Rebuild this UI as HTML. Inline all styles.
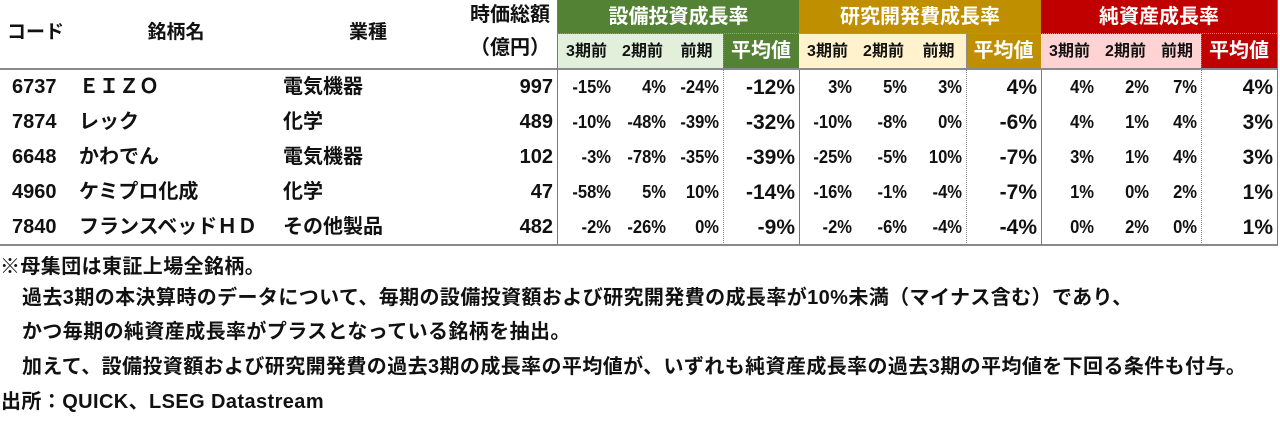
<!DOCTYPE html>
<html><head><meta charset="utf-8">
<style>
*{margin:0;padding:0;box-sizing:border-box}
html,body{width:1280px;height:422px;background:#fff;overflow:hidden}
body{position:relative;font-family:"Liberation Sans","Noto Sans CJK JP",sans-serif;font-weight:bold;color:#111}
.c{position:absolute;white-space:nowrap;height:35px;line-height:35px}
.l{text-align:left}
.r{text-align:right;padding-right:4px}
.m{text-align:center}
.bg{position:absolute}
.vl{position:absolute;width:0;border-left:1px solid #7a7a7a}
.vd{position:absolute;width:0;border-left:1px dotted #8a8a8a}
.hl{position:absolute;height:2px;background:#8a8a8a}
.t{font-size:20px;color:#fff;height:34px;line-height:34px}
.s{font-size:16px;color:#111}
.av{font-size:20px;color:#fff}
.n{font-size:18px}
.n span{display:inline-block;transform:scaleX(.92);transform-origin:right center}
.a{font-size:21px}
.lt{font-size:20px}
.note{position:absolute;left:0;font-size:20px;letter-spacing:0.4px;white-space:nowrap;line-height:24px}
</style></head><body>

<!-- header backgrounds -->
<div class="bg" style="left:558px;top:0;width:241px;height:34px;background:#548235"></div>
<div class="bg" style="left:558px;top:34px;width:165px;height:35px;background:#E2EFDA"></div>
<div class="bg" style="left:723px;top:34px;width:76px;height:35px;background:#548235"></div>
<div class="bg" style="left:799px;top:0;width:242px;height:34px;background:#BF8F00"></div>
<div class="bg" style="left:799px;top:34px;width:167px;height:35px;background:#FFF2CC"></div>
<div class="bg" style="left:966px;top:34px;width:75px;height:35px;background:#BF8F00"></div>
<div class="bg" style="left:1041px;top:0;width:236px;height:34px;background:#C00000"></div>
<div class="bg" style="left:1041px;top:34px;width:160px;height:35px;background:#FFD3D3"></div>
<div class="bg" style="left:1201px;top:34px;width:76px;height:35px;background:#C00000"></div>
<div class="bg" style="left:558px;top:33px;width:719px;height:0;border-top:1px dotted #9a9a9a"></div>

<!-- header text left -->
<div class="c l" style="left:7px;top:15px;font-size:19px">コード</div>
<div class="c m" style="left:126px;top:15px;width:100px;font-size:19px">銘柄名</div>
<div class="c m" style="left:318px;top:15px;width:100px;font-size:19px">業種</div>
<div class="c" style="left:420px;top:-2px;width:130px;text-align:right;font-size:20px">時価総額</div>
<div class="c" style="left:420px;top:31px;width:130px;text-align:right;font-size:20px">（億円）</div>

<!-- group titles -->
<div class="c m t" style="left:558px;top:0;width:241px">設備投資成長率</div>
<div class="c m t" style="left:799px;top:0;width:242px">研究開発費成長率</div>
<div class="c m t" style="left:1041px;top:0;width:236px">純資産成長率</div>

<!-- sub headers -->
<div class="c m s" style="left:558px;top:34px;width:57px">3期前</div>
<div class="c m s" style="left:615px;top:34px;width:55px">2期前</div>
<div class="c m s" style="left:670px;top:34px;width:53px">前期</div>
<div class="c m av" style="left:723px;top:34px;width:76px">平均値</div>
<div class="c m s" style="left:799px;top:34px;width:57px">3期前</div>
<div class="c m s" style="left:856px;top:34px;width:55px">2期前</div>
<div class="c m s" style="left:911px;top:34px;width:55px">前期</div>
<div class="c m av" style="left:966px;top:34px;width:75px">平均値</div>
<div class="c m s" style="left:1041px;top:34px;width:57px">3期前</div>
<div class="c m s" style="left:1098px;top:34px;width:55px">2期前</div>
<div class="c m s" style="left:1153px;top:34px;width:48px">前期</div>
<div class="c m av" style="left:1201px;top:34px;width:76px">平均値</div>

<!-- lines -->
<div class="hl" style="left:0;top:68px;width:1278px"></div>
<div class="hl" style="left:0;top:244px;width:1278px"></div>
<div class="vl" style="left:557px;top:0;height:245px"></div>
<div class="vl" style="left:1277px;top:0;height:245px"></div>
<div class="vd" style="left:723px;top:34px;height:211px"></div>
<div class="vl" style="left:799px;top:70px;height:175px"></div>
<div class="vd" style="left:966px;top:34px;height:211px"></div>
<div class="vl" style="left:1041px;top:70px;height:175px"></div>
<div class="vd" style="left:1201px;top:34px;height:211px"></div>

<!-- row 1 -->
<div class="c l lt" style="left:12px;top:70px">6737</div>
<div class="c l lt" style="left:79px;top:70px">ＥＩＺＯ</div>
<div class="c l lt" style="left:283px;top:70px">電気機器</div>
<div class="c r lt" style="left:450px;top:70px;width:107px">997</div>
<div class="c r n" style="left:558px;top:70px;width:57px"><span>-15%</span></div>
<div class="c r n" style="left:615px;top:70px;width:55px"><span>4%</span></div>
<div class="c r n" style="left:670px;top:70px;width:53px"><span>-24%</span></div>
<div class="c r a" style="left:723px;top:70px;width:76px">-12%</div>
<div class="c r n" style="left:799px;top:70px;width:57px"><span>3%</span></div>
<div class="c r n" style="left:856px;top:70px;width:55px"><span>5%</span></div>
<div class="c r n" style="left:911px;top:70px;width:55px"><span>3%</span></div>
<div class="c r a" style="left:966px;top:70px;width:75px">4%</div>
<div class="c r n" style="left:1041px;top:70px;width:57px"><span>4%</span></div>
<div class="c r n" style="left:1098px;top:70px;width:55px"><span>2%</span></div>
<div class="c r n" style="left:1153px;top:70px;width:48px"><span>7%</span></div>
<div class="c r a" style="left:1201px;top:70px;width:76px">4%</div>

<!-- row 2 -->
<div class="c l lt" style="left:12px;top:105px">7874</div>
<div class="c l lt" style="left:79px;top:105px">レック</div>
<div class="c l lt" style="left:283px;top:105px">化学</div>
<div class="c r lt" style="left:450px;top:105px;width:107px">489</div>
<div class="c r n" style="left:558px;top:105px;width:57px"><span>-10%</span></div>
<div class="c r n" style="left:615px;top:105px;width:55px"><span>-48%</span></div>
<div class="c r n" style="left:670px;top:105px;width:53px"><span>-39%</span></div>
<div class="c r a" style="left:723px;top:105px;width:76px">-32%</div>
<div class="c r n" style="left:799px;top:105px;width:57px"><span>-10%</span></div>
<div class="c r n" style="left:856px;top:105px;width:55px"><span>-8%</span></div>
<div class="c r n" style="left:911px;top:105px;width:55px"><span>0%</span></div>
<div class="c r a" style="left:966px;top:105px;width:75px">-6%</div>
<div class="c r n" style="left:1041px;top:105px;width:57px"><span>4%</span></div>
<div class="c r n" style="left:1098px;top:105px;width:55px"><span>1%</span></div>
<div class="c r n" style="left:1153px;top:105px;width:48px"><span>4%</span></div>
<div class="c r a" style="left:1201px;top:105px;width:76px">3%</div>

<!-- row 3 -->
<div class="c l lt" style="left:12px;top:140px">6648</div>
<div class="c l lt" style="left:79px;top:140px">かわでん</div>
<div class="c l lt" style="left:283px;top:140px">電気機器</div>
<div class="c r lt" style="left:450px;top:140px;width:107px">102</div>
<div class="c r n" style="left:558px;top:140px;width:57px"><span>-3%</span></div>
<div class="c r n" style="left:615px;top:140px;width:55px"><span>-78%</span></div>
<div class="c r n" style="left:670px;top:140px;width:53px"><span>-35%</span></div>
<div class="c r a" style="left:723px;top:140px;width:76px">-39%</div>
<div class="c r n" style="left:799px;top:140px;width:57px"><span>-25%</span></div>
<div class="c r n" style="left:856px;top:140px;width:55px"><span>-5%</span></div>
<div class="c r n" style="left:911px;top:140px;width:55px"><span>10%</span></div>
<div class="c r a" style="left:966px;top:140px;width:75px">-7%</div>
<div class="c r n" style="left:1041px;top:140px;width:57px"><span>3%</span></div>
<div class="c r n" style="left:1098px;top:140px;width:55px"><span>1%</span></div>
<div class="c r n" style="left:1153px;top:140px;width:48px"><span>4%</span></div>
<div class="c r a" style="left:1201px;top:140px;width:76px">3%</div>

<!-- row 4 -->
<div class="c l lt" style="left:12px;top:175px">4960</div>
<div class="c l lt" style="left:79px;top:175px">ケミプロ化成</div>
<div class="c l lt" style="left:283px;top:175px">化学</div>
<div class="c r lt" style="left:450px;top:175px;width:107px">47</div>
<div class="c r n" style="left:558px;top:175px;width:57px"><span>-58%</span></div>
<div class="c r n" style="left:615px;top:175px;width:55px"><span>5%</span></div>
<div class="c r n" style="left:670px;top:175px;width:53px"><span>10%</span></div>
<div class="c r a" style="left:723px;top:175px;width:76px">-14%</div>
<div class="c r n" style="left:799px;top:175px;width:57px"><span>-16%</span></div>
<div class="c r n" style="left:856px;top:175px;width:55px"><span>-1%</span></div>
<div class="c r n" style="left:911px;top:175px;width:55px"><span>-4%</span></div>
<div class="c r a" style="left:966px;top:175px;width:75px">-7%</div>
<div class="c r n" style="left:1041px;top:175px;width:57px"><span>1%</span></div>
<div class="c r n" style="left:1098px;top:175px;width:55px"><span>0%</span></div>
<div class="c r n" style="left:1153px;top:175px;width:48px"><span>2%</span></div>
<div class="c r a" style="left:1201px;top:175px;width:76px">1%</div>

<!-- row 5 -->
<div class="c l lt" style="left:12px;top:210px">7840</div>
<div class="c l lt" style="left:79px;top:210px">フランスベッドＨＤ</div>
<div class="c l lt" style="left:283px;top:210px">その他製品</div>
<div class="c r lt" style="left:450px;top:210px;width:107px">482</div>
<div class="c r n" style="left:558px;top:210px;width:57px"><span>-2%</span></div>
<div class="c r n" style="left:615px;top:210px;width:55px"><span>-26%</span></div>
<div class="c r n" style="left:670px;top:210px;width:53px"><span>0%</span></div>
<div class="c r a" style="left:723px;top:210px;width:76px">-9%</div>
<div class="c r n" style="left:799px;top:210px;width:57px"><span>-2%</span></div>
<div class="c r n" style="left:856px;top:210px;width:55px"><span>-6%</span></div>
<div class="c r n" style="left:911px;top:210px;width:55px"><span>-4%</span></div>
<div class="c r a" style="left:966px;top:210px;width:75px">-4%</div>
<div class="c r n" style="left:1041px;top:210px;width:57px"><span>0%</span></div>
<div class="c r n" style="left:1098px;top:210px;width:55px"><span>2%</span></div>
<div class="c r n" style="left:1153px;top:210px;width:48px"><span>0%</span></div>
<div class="c r a" style="left:1201px;top:210px;width:76px">1%</div>

<!-- notes -->
<div class="note" style="top:255px">※母集団は東証上場全銘柄。</div>
<div class="note" style="top:286px;left:22px">過去3期の本決算時のデータについて、毎期の設備投資額および研究開発費の成長率が10%未満（マイナス含む）であり、</div>
<div class="note" style="top:320px;left:22px">かつ毎期の純資産成長率がプラスとなっている銘柄を抽出。</div>
<div class="note" style="top:355px;left:22px">加えて、設備投資額および研究開発費の過去3期の成長率の平均値が、いずれも純資産成長率の過去3期の平均値を下回る条件も付与。</div>
<div class="note" style="top:390px;left:1px">出所：QUICK、LSEG Datastream</div>

</body></html>
